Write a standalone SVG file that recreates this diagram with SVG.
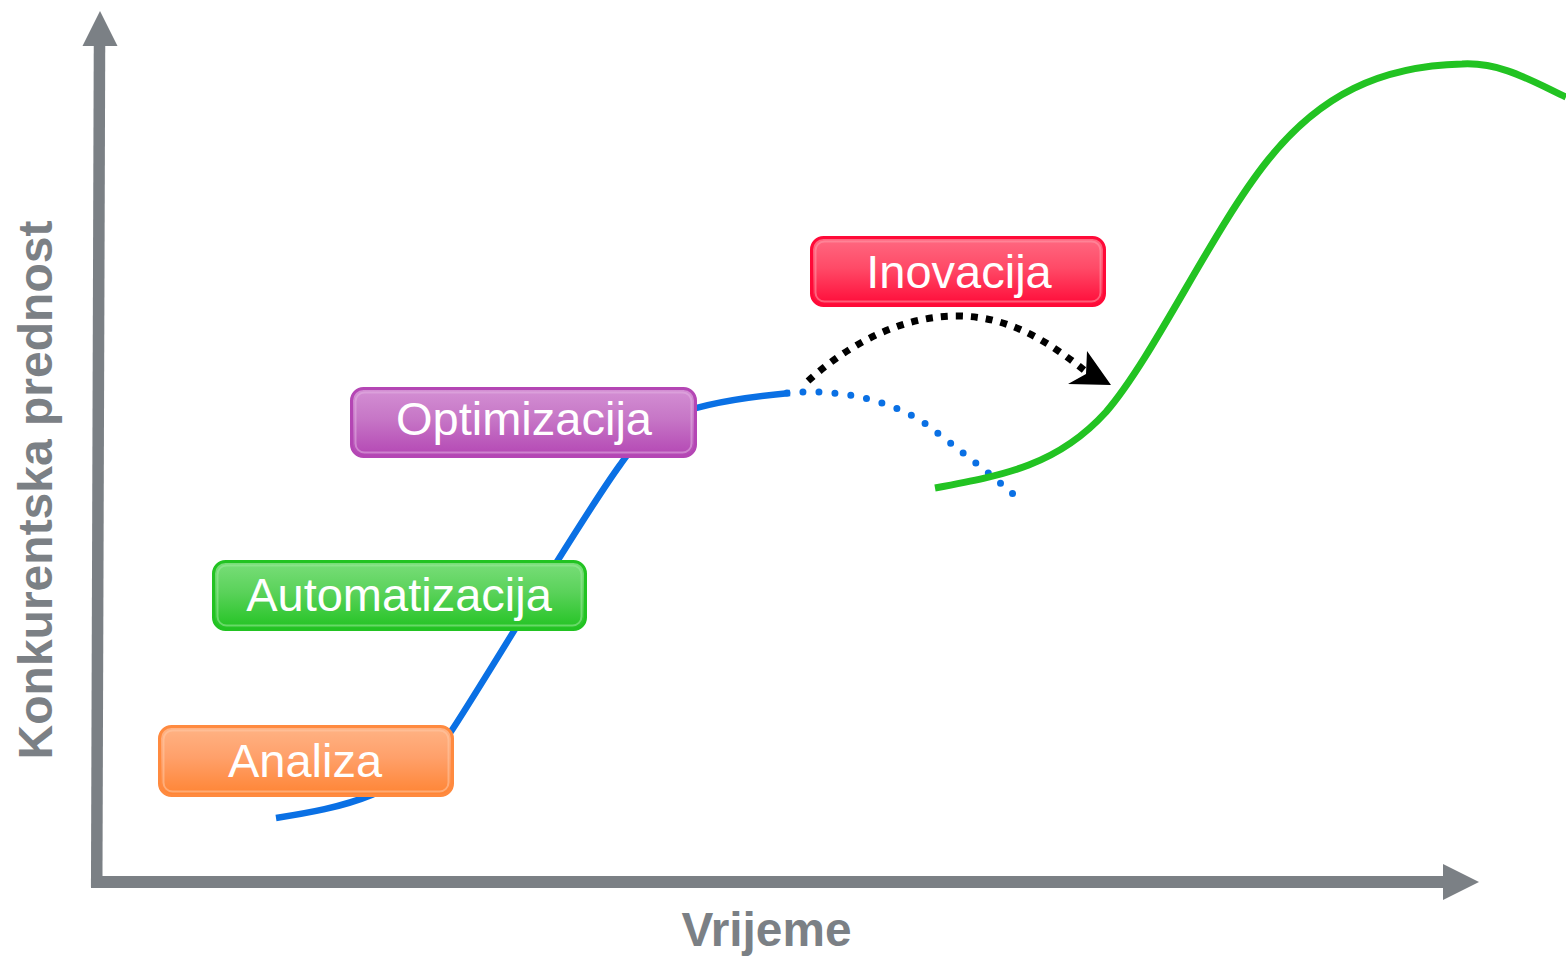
<svg xmlns="http://www.w3.org/2000/svg" width="1566" height="961" viewBox="0 0 1566 961">
<style>
.axis{stroke:#7b8085;fill:none}
.axtxt{font-family:"Liberation Sans",Arial,sans-serif;font-weight:bold;fill:#7b8085;font-size:48px}
.lbl{font-family:"Liberation Sans",Arial,sans-serif;font-size:47px;fill:#ffffff;text-anchor:middle}
.hl{fill:none;stroke-width:2;stroke-opacity:0.55}
</style>
<defs>
<linearGradient id="gOr" x1="0" y1="0" x2="0" y2="1"><stop offset="0" stop-color="#ffb385"/><stop offset="0.45" stop-color="#ffa06a"/><stop offset="1" stop-color="#ff8433"/></linearGradient>
<linearGradient id="gGr" x1="0" y1="0" x2="0" y2="1"><stop offset="0" stop-color="#7ade7a"/><stop offset="0.45" stop-color="#5ad25a"/><stop offset="1" stop-color="#22c322"/></linearGradient>
<linearGradient id="gPu" x1="0" y1="0" x2="0" y2="1"><stop offset="0" stop-color="#d490d4"/><stop offset="0.45" stop-color="#c676c6"/><stop offset="1" stop-color="#b446b4"/></linearGradient>
<linearGradient id="gRe" x1="0" y1="0" x2="0" y2="1"><stop offset="0" stop-color="#ff6a82"/><stop offset="0.45" stop-color="#ff4a67"/><stop offset="1" stop-color="#ff0a38"/></linearGradient>
</defs>

<g id="axes">
<line class="axis" x1="96.7" y1="887" x2="99.5" y2="44" stroke-width="11.5"/>
<polygon points="100,11 117.5,46 82.5,46" fill="#7b8085"/>
<line class="axis" x1="91" y1="882" x2="1446" y2="882" stroke-width="12"/>
<polygon points="1479,882 1443,864 1443,900" fill="#7b8085"/>
<text class="axtxt" x="51.5" y="490" text-anchor="middle" transform="rotate(-90 51.5 490)">Konkurentska prednost</text>
<text class="axtxt" x="681.5" y="946" font-size="42" textLength="170" lengthAdjust="spacingAndGlyphs">Vrijeme</text>
</g>

<g id="connectors">
<path id="blue-curve" d="M276,818 C340,808 410,795 452,730 C490,672 580,520 620,465 C648,426 660,405 790,393" fill="none" stroke="#0a70e4" stroke-width="6.5"/>
<path id="blue-dotted" d="M787,393 C840,388 900,400 940,435 C970,458 995,478 1013,494" fill="none" stroke="#0a70e4" stroke-width="7" stroke-linecap="round" stroke-dasharray="0 16"/>
<path id="green-curve" d="M935,488 C1005,475 1058,465 1106,412 C1155,355 1212,230 1268,160 C1320,95 1380,66 1462,64 C1500,62 1530,80 1566,97" fill="none" stroke="#22c322" stroke-width="7"/>
<path id="innovation-arrow" d="M808,381 C848,345 900,316 957,316 C1010,316 1050,343 1084,370" fill="none" stroke="#000" stroke-width="7" stroke-dasharray="7 8"/>
<polygon id="innovation-arrowhead" points="1111,385 1087,351 1086,374 1068,384" fill="#000"/>
</g>

<g id="node-analiza">
<rect x="159.5" y="726.5" width="293" height="69" rx="12" fill="url(#gOr)" stroke="#ff8a3f" stroke-width="3"/>
<rect x="163.5" y="730.5" width="285" height="61" rx="9" class="hl" stroke="#ffc9a5"/>
<text class="lbl" x="305" y="777">Analiza</text>
</g>

<g id="node-automatizacija">
<rect x="213.5" y="561.5" width="372" height="68" rx="12" fill="url(#gGr)" stroke="#22c322" stroke-width="3"/>
<rect x="217.5" y="565.5" width="364" height="60" rx="9" class="hl" stroke="#9be99b"/>
<text class="lbl" x="399" y="611">Automatizacija</text>
</g>

<g id="node-optimizacija">
<rect x="351.5" y="388.5" width="344" height="68" rx="12" fill="url(#gPu)" stroke="#b446b4" stroke-width="3"/>
<rect x="355.5" y="392.5" width="336" height="60" rx="9" class="hl" stroke="#e2b0e2"/>
<text class="lbl" x="524" y="435">Optimizacija</text>
</g>

<g id="node-inovacija">
<rect x="811.5" y="237.5" width="293" height="68" rx="12" fill="url(#gRe)" stroke="#ff0a38" stroke-width="3"/>
<rect x="815.5" y="241.5" width="285" height="60" rx="9" class="hl" stroke="#ff9aaa"/>
<text class="lbl" x="959" y="288">Inovacija</text>
</g>
</svg>
